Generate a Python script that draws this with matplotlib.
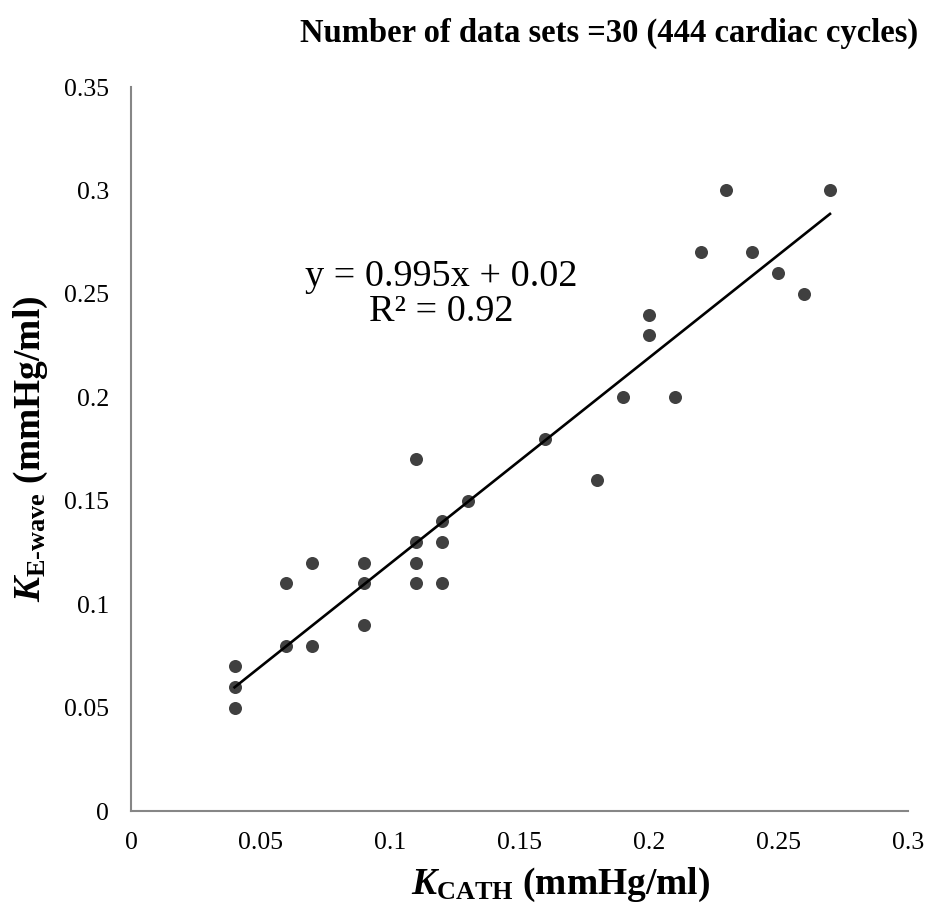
import matplotlib
matplotlib.use("Agg")
import matplotlib.pyplot as plt
import numpy as np

# Data
k_cath = [0.04, 0.04, 0.04, 0.06, 0.06, 0.07, 0.07, 0.09, 0.09, 0.09,
          0.11, 0.11, 0.11, 0.11, 0.12, 0.12, 0.12, 0.13, 0.16, 0.18,
          0.19, 0.20, 0.20, 0.21, 0.22, 0.23, 0.24, 0.25, 0.26, 0.27]
k_ewave = [0.07, 0.06, 0.05, 0.11, 0.08, 0.12, 0.08, 0.12, 0.11, 0.09,
           0.17, 0.13, 0.12, 0.11, 0.14, 0.13, 0.11, 0.15, 0.18, 0.16,
           0.20, 0.24, 0.23, 0.20, 0.27, 0.30, 0.27, 0.26, 0.25, 0.30]
slope = 0.995
intercept = 0.02
r2 = 0.92
x_ticks = [0, 0.05, 0.1, 0.15, 0.2, 0.25, 0.3]
x_tick_labels = ["0", "0.05", "0.1", "0.15", "0.2", "0.25", "0.3"]
y_ticks = [0, 0.05, 0.1, 0.15, 0.2, 0.25, 0.3, 0.35]
y_tick_labels = ["0", "0.05", "0.1", "0.15", "0.2", "0.25", "0.3", "0.35"]

plt.rcParams['font.family'] = ['Liberation Serif', 'DejaVu Serif']
plt.rcParams['mathtext.fontset'] = 'custom'
plt.rcParams['mathtext.rm'] = 'Liberation Serif:bold'
plt.rcParams['mathtext.it'] = 'Liberation Serif:bold:italic'
plt.rcParams['mathtext.bf'] = 'Liberation Serif:bold'

fig = plt.figure(figsize=(9.29, 9.13), dpi=100)
ax = fig.add_axes([0.141, 0.1117, 0.836, 0.793])

ax.scatter(k_cath, k_ewave, s=88, color='#404040', zorder=3, linewidths=0)
xs = np.array([min(k_cath), max(k_cath)])
ax.plot(xs, slope * xs + intercept, color='black', lw=1.9, zorder=4)

ax.set_xlim(0, 0.3)
ax.set_ylim(0, 0.35)
ax.set_xticks(x_ticks)
ax.set_xticklabels(x_tick_labels)
ax.set_yticks(y_ticks)
ax.set_yticklabels(y_tick_labels)
ax.tick_params(axis='both', length=0, labelsize=18.5)
ax.tick_params(axis='x', pad=15)
ax.tick_params(axis='y', pad=16)
for s in ['top', 'right']:
    ax.spines[s].set_visible(False)
for s in ['left', 'bottom']:
    ax.spines[s].set_color('#868686')
    ax.spines[s].set_linewidth(1.5)

ax.text(0.399, 0.714, "y = %.3fx + %.2f\nR\u00b2 = %.2f" % (slope, intercept, r2),
        transform=ax.transAxes, fontsize=27.5, ha='center', va='center', linespacing=1.0)

fig.text(0.988, 0.963, "Number of data sets =30 (444 cardiac cycles)",
         fontsize=23.5, fontweight='bold', ha='right', va='center')

ax.set_xlabel(r"$\mathit{K}_{\mathrm{CATH}}$ (mmHg/ml)", fontsize=27, fontweight='bold', labelpad=10)
ax.xaxis.set_label_coords(0.553, -0.075)
ax.set_ylabel(r"$\mathit{K}_{\mathrm{E\text{-}wave}}$ (mmHg/ml)", fontsize=27, fontweight='bold', labelpad=10)

fig.savefig("out.png", dpi=100)
